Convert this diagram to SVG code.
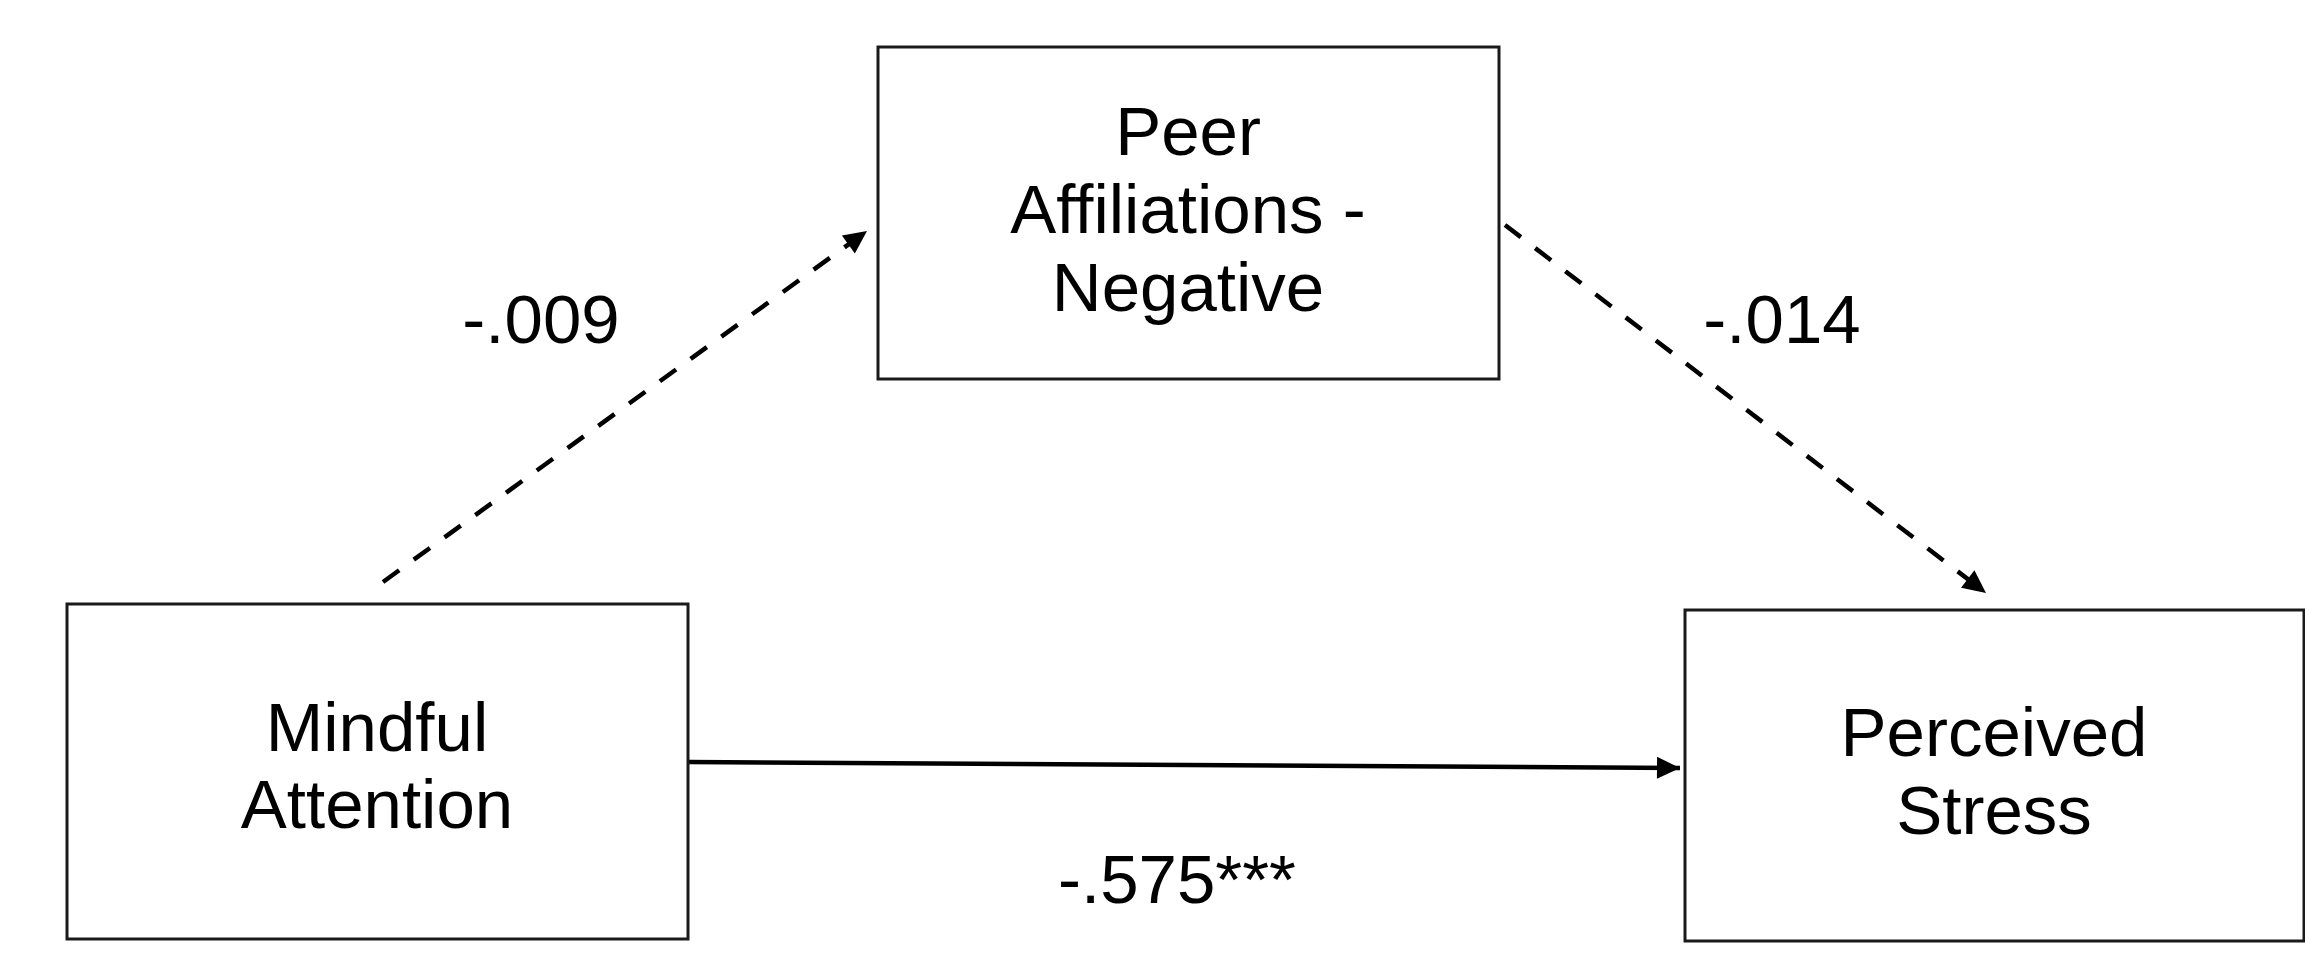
<svg xmlns="http://www.w3.org/2000/svg" width="2305" height="966" viewBox="0 0 2305 966">
<style>
.box{fill:#fff;stroke:#1a1a1a;stroke-width:3}
.t{font-family:"Liberation Sans",Arial,sans-serif;font-size:69px;fill:#000;text-anchor:middle}
.c{stroke:#000;stroke-width:4.5;fill:none}
.d{stroke-dasharray:20 18}
</style>
<defs>
<marker id="ah" markerUnits="userSpaceOnUse" markerWidth="26" markerHeight="26" viewBox="0 0 26 26" refX="24" refY="13" orient="auto">
<path d="M1,2 L24,13 L1,24 Z" fill="#000"/>
</marker>
</defs>
<rect width="2305" height="966" fill="#fff"/>
<g id="connectors">
<line class="c d" x1="383" y1="582" x2="867" y2="231" marker-end="url(#ah)"/>
<line class="c d" x1="1505" y1="225" x2="1986" y2="593" marker-end="url(#ah)"/>
<line class="c" x1="688" y1="762" x2="1680" y2="768" marker-end="url(#ah)"/>
<text class="t" x="541" y="343">-.009</text>
<text class="t" x="1782" y="343">-.014</text>
<text class="t" x="1177" y="903">-.575***</text>
</g>
<g id="node-peer">
<rect class="box" x="878" y="47" width="621" height="332"/>
<text class="t" x="1188" y="155">Peer</text>
<text class="t" x="1188" y="233">Affiliations -</text>
<text class="t" x="1188" y="311">Negative</text>
</g>
<g id="node-mindful">
<rect class="box" x="67" y="604" width="621" height="335"/>
<text class="t" x="377" y="751">Mindful</text>
<text class="t" x="377" y="828">Attention</text>
</g>
<g id="node-stress">
<rect class="box" x="1685" y="610" width="619" height="331"/>
<text class="t" x="1994" y="756">Perceived</text>
<text class="t" x="1994" y="834">Stress</text>
</g>
</svg>
